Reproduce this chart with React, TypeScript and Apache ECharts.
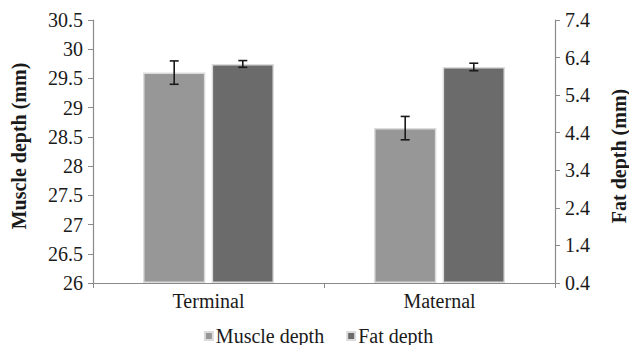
import React, { useEffect, useRef } from "react";
import * as echarts from "echarts";

const categories = ["Terminal", "Maternal"];
const muscleDepth = [29.6, 28.65];
const muscleErr = [0.2, 0.2];
const fatDepth = [6.23, 6.15];
const fatErr = [0.09, 0.1];

const FONT = "Liberation Serif";
const FS = 20;
const BAR_W = 0.27;
const BAR_GAP = 0.1;

function errorSeries(name: string, values: number[], errs: number[], yAxisIndex: number, side: number) {
  return {
    name: name + " err",
    type: "custom",
    yAxisIndex,
    silent: true,
    z: 5,
    data: values.map((v, i) => [i, v - errs[i], v + errs[i]]),
    renderItem: (params: any, api: any) => {
      const idx = api.value(0);
      const lo = api.coord([idx, api.value(1)]);
      const hi = api.coord([idx, api.value(2)]);
      const band = api.size([1, 0])[0];
      const w = band * BAR_W;
      const off = ((w + w * BAR_GAP) / 2) * side;
      const x = lo[0] + off;
      const cap = 4.5;
      const style = { stroke: "#1a1a1a", lineWidth: 1.6, fill: "none" };
      return {
        type: "group",
        children: [
          { type: "line", shape: { x1: x, y1: lo[1], x2: x, y2: hi[1] }, style },
          { type: "line", shape: { x1: x - cap, y1: lo[1], x2: x + cap, y2: lo[1] }, style },
          { type: "line", shape: { x1: x - cap, y1: hi[1], x2: x + cap, y2: hi[1] }, style },
        ],
      };
    },
  };
}

export default function App() {
  const ref = useRef<HTMLDivElement>(null);
  useEffect(() => {
    if (!ref.current) return;
    const chart = echarts.init(ref.current, null, { renderer: "svg" });
    const axisLine = { show: true, lineStyle: { color: "#8a8a8a", width: 1.2 } };
    const labelStyle = { fontFamily: FONT, fontSize: FS, color: "#1a1a1a" };
    chart.setOption({
      animation: false,
      backgroundColor: "#ffffff",
      textStyle: { fontFamily: FONT },
      grid: { left: 93, right: 79, top: 20, bottom: 70 },
      legend: {
        data: ["Muscle depth", "Fat depth"],
        bottom: 2,
        left: "center",
        icon: "rect",
        itemWidth: 8,
        itemHeight: 8,
        itemGap: 22,
        textStyle: { fontFamily: FONT, fontSize: FS, color: "#1a1a1a", padding: [0, 0, 0, -2] },
      },
      xAxis: {
        type: "category",
        data: categories,
        axisLine,
        axisTick: { show: true, alignWithLabel: false, length: 5, lineStyle: { color: "#8a8a8a" } },
        axisLabel: { ...labelStyle, margin: 8 },
        splitLine: { show: false },
      },
      yAxis: [
        {
          type: "value",
          min: 26,
          max: 30.5,
          interval: 0.5,
          startValue: 26,
          axisLine,
          axisTick: { show: true, length: 5, lineStyle: { color: "#8a8a8a" } },
          axisLabel: { ...labelStyle, margin: 10 },
          splitLine: { show: false },
          name: "Muscle depth (mm)",
          nameLocation: "middle",
          nameGap: 64,
          nameTextStyle: { fontFamily: FONT, fontSize: FS, fontWeight: "bold", color: "#1a1a1a", padding: [0, 0, 0, 11] },
        },
        {
          type: "value",
          min: 0.4,
          max: 7.4,
          interval: 1,
          startValue: 0.4,
          position: "right",
          axisLine,
          axisTick: { show: true, length: 5, lineStyle: { color: "#8a8a8a" } },
          axisLabel: { ...labelStyle, margin: 10, formatter: (v: number) => v.toFixed(1) },
          splitLine: { show: false },
          name: "Fat depth (mm)",
          nameLocation: "middle",
          nameGap: 54,
          nameTextStyle: { fontFamily: FONT, fontSize: FS, fontWeight: "bold", color: "#1a1a1a", padding: [0, 0, 0, -9] },
        },
      ],
      series: [
        {
          name: "Muscle depth",
          type: "bar",
          yAxisIndex: 0,
          data: muscleDepth,
          barWidth: BAR_W * 100 + "%",
          barGap: BAR_GAP * 100 + "%",
          itemStyle: { color: "#979797", borderColor: "#dcdcdc", borderWidth: 1.5 },
        },
        {
          name: "Fat depth",
          type: "bar",
          yAxisIndex: 1,
          data: fatDepth,
          barWidth: BAR_W * 100 + "%",
          barGap: BAR_GAP * 100 + "%",
          itemStyle: { color: "#6b6b6b", borderColor: "#dcdcdc", borderWidth: 1.5 },
        },
        errorSeries("Muscle depth", muscleDepth, muscleErr, 0, -1),
        errorSeries("Fat depth", fatDepth, fatErr, 1, 1),
      ],
    });
    return () => chart.dispose();
  }, []);
  return <div ref={ref} style={{ width: 637, height: 353, margin: -8 }} />;
}
